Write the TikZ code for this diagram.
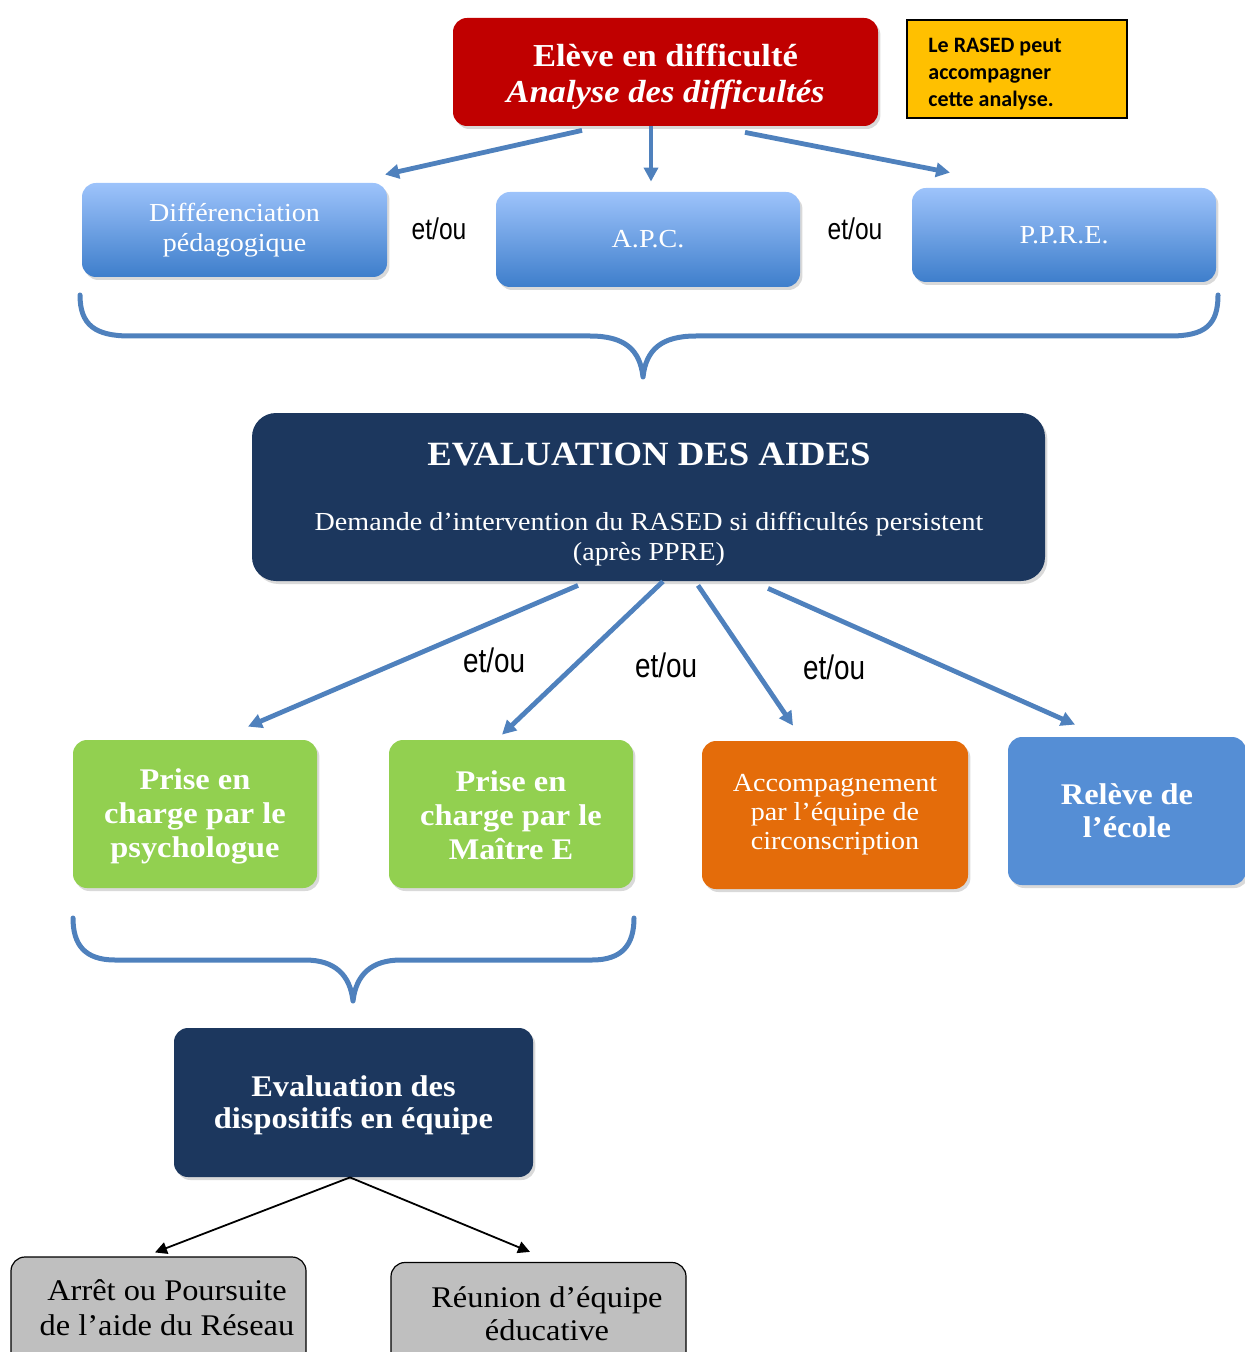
\documentclass[tikz,border=0pt]{standalone}
\usepackage{fontspec}
\setmainfont{Liberation Serif}[FakeStretch=1.08]
\newfontfamily\calib{Carlito}
\newfontfamily\narrowsans{Liberation Sans}[FakeStretch=0.82]
\usetikzlibrary{arrows.meta,shadows,calc}
\definecolor{redbox}{HTML}{C00000}
\definecolor{yellowbox}{HTML}{FFC000}
\definecolor{bluetop}{HTML}{9DC3FB}
\definecolor{bluebot}{HTML}{3E7ECB}
\definecolor{navy}{HTML}{1C375E}
\definecolor{greenbox}{HTML}{92D050}
\definecolor{orangebox}{HTML}{E46C0A}
\definecolor{relevebox}{HTML}{558ED5}
\definecolor{graybox}{HTML}{BFBFBF}
\definecolor{arrowblue}{HTML}{4F81BD}
\newcommand{\fsz}[2]{\fontsize{#1}{#2}\selectfont}
\begin{document}
\begin{tikzpicture}[x=0.5pt,y=-0.5pt,
 box/.style={rounded corners=7pt, inner sep=0pt, drop shadow={shadow xshift=1.2pt,shadow yshift=-1.5pt,opacity=.3}},
 gradbox/.style={box, top color=bluetop, bottom color=bluebot, text=white},
 bluearrow/.style={draw=arrowblue, line width=2.4pt, -{Triangle[length=7pt,width=7pt]}},
 blackarrow/.style={draw=black, line width=0.9pt, -{Triangle[length=6pt,width=6pt]}},
 brace/.style={draw=arrowblue, line width=2.5pt, line join=round, line cap=round},
 etou/.style={font=\narrowsans\fsz{15}{17}, inner sep=1pt},
 etoub/.style={font=\narrowsans\fsz{17}{19}, inner sep=1pt},
 graystyle/.style={draw=black, fill=graybox, line width=0.6pt, rounded corners=7pt, inner sep=0pt}
]
\useasboundingbox (0,0) rectangle (1244,1352);

% top
\node[box, fill=redbox, minimum width=212.5pt, minimum height=54pt] (eleve) at (665.5,72) {};
\node[text=white, align=center, font=\bfseries\fsz{16}{18}] (elevetxt) at (665.5,77) {Elève en difficulté\\\textit{Analyse des difficultés}};
\node[draw=black, fill=yellowbox, line width=0.6pt, minimum width=110pt, minimum height=49pt] (rased) at (1017,69) {};
\node[anchor=north west, inner sep=0pt, align=left, font=\calib\bfseries\fsz{11}{13.5}] (rasedtxt) at (928,38) {Le RASED peut\\accompagner\\cette analyse.};

\node[gradbox, minimum width=152.5pt, minimum height=47pt, align=center, font=\fsz{13}{15}] (diff) at (234.5,230) {Différenciation\\pédagogique};
\node[gradbox, minimum width=152pt, minimum height=47.5pt, font=\fsz{13}{15}] (apc) at (648,239.5) {A.P.C.};
\node[gradbox, minimum width=152pt, minimum height=47pt, font=\fsz{13}{15}] (ppre) at (1064,235) {P.P.R.E.};
\node[etou] (etA) at (439,229) {et/ou};
\node[etou] (etB) at (855,229) {et/ou};

\draw[bluearrow] ($(eleve.south)+(-83.5,4)$) -- ($(diff.north)+(150.5,-8)$);
\draw[bluearrow] ($(eleve.south)+(-14.5,0)$) -- ($(apc.north)+(3,-10)$);
\draw[bluearrow] ($(eleve.south)+(79.5,6)$) -- ($(ppre.north)+(-114,-15)$);

% brace 1
\draw[brace] (80,295) .. controls (80,325) and (95,336) .. (130,336) -- (590,336) .. controls (625,336) and (640,350) .. (643,377) .. controls (646,350) and (661,336) .. (696,336) -- (1170,336) .. controls (1205,336) and (1218,325) .. (1218,295);

% evaluation des aides
\node[box, rounded corners=12pt, fill=navy, minimum width=396.5pt, minimum height=84pt] (eval) at (648.5,497) {};
\node[text=white, font=\bfseries\fsz{17}{20}] (evaltitle) at (649,454) {EVALUATION DES AIDES};
\node[text=white, align=center, font=\fsz{13}{15}] (evalsub) at (649,539) {Demande d’intervention du RASED si difficultés persistent\\(après PPRE)};

% second row
\node[box, fill=greenbox, minimum width=122pt, minimum height=74pt] (psy) at (195,814) {};
\node[text=white, align=center, font=\bfseries\fsz{15}{17}] (psytxt) at (195,816) {Prise en\\charge par le\\psychologue};
\node[box, fill=greenbox, minimum width=122pt, minimum height=74pt] (maitre) at (511,814) {};
\node[text=white, align=center, font=\bfseries\fsz{15}{17}] (maitretxt) at (511,815) {Prise en\\charge par le\\Maître E};
\node[box, fill=orangebox, minimum width=133pt, minimum height=74pt, text=white, align=center, font=\fsz{13}{14.5}] (circo) at (835,815) {Accompagnement\\par l’équipe de\\circonscription};
\node[box, fill=relevebox, minimum width=119pt, minimum height=74pt, text=white, align=center, font=\bfseries\fsz{15}{16.5}] (releve) at (1127,811) {Relève de\\l’école};

\draw[bluearrow] ($(eval.south)+(-70.5,4)$) -- ($(psy.north)+(53,-13)$);
\draw[bluearrow] ($(eval.south)+(14.5,0)$) -- ($(maitre.north)+(-9,-5)$);
\draw[bluearrow] ($(eval.south)+(49.5,4)$) -- ($(circo.north)+(-42,-15)$);
\draw[bluearrow] ($(eval.south)+(119.5,7)$) -- ($(releve.north)+(-52,-12)$);

\node[etoub, fill=white] (etC) at (494,660) {et/ou};
\node[etoub] (etD) at (666,665) {et/ou};
\node[etoub] (etE) at (834,667) {et/ou};

% brace 2
\draw[brace] (73,918) .. controls (73,945) and (85,960) .. (115,960) -- (305,960) .. controls (335,960) and (350,975) .. (353,1001) .. controls (356,975) and (371,960) .. (401,960) -- (592,960) .. controls (622,960) and (634,945) .. (634,918);

% evaluation des dispositifs
\node[box, fill=navy, minimum width=179.5pt, minimum height=74.5pt] (evaldisp) at (353.5,1102.5) {};
\node[text=white, align=center, font=\bfseries\fsz{15}{16}] (evaldisptxt) at (353.5,1105.5) {Evaluation des\\dispositifs en équipe};

% gray boxes
\node[graystyle, minimum width=147.5pt, minimum height=54pt] (arret) at (158.5,1311) {};
\node[align=center, font=\fsz{15}{17.5}] (arrettxt) at (167,1308) {Arrêt ou Poursuite\\de l’aide du Réseau};
\node[graystyle, minimum width=147.5pt, minimum height=54pt] (reunion) at (538.5,1316.5) {};
\node[align=center, font=\fsz{15}{16.5}] (reuniontxt) at (547,1314) {Réunion d’équipe\\éducative};

\draw[blackarrow] ($(evaldisp.south)+(-3.5,0)$) -- ($(arret.north)+(-3.5,-4)$);
\draw[blackarrow] ($(evaldisp.south)+(-3.5,0)$) -- ($(reunion.north)+(-8.5,-10)$);
\end{tikzpicture}
\end{document}
